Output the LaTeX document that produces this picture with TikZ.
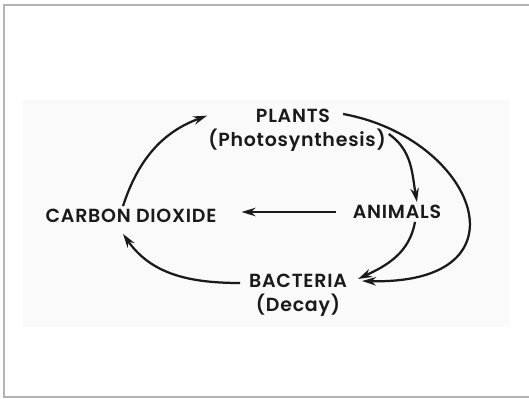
\documentclass[tikz,border=0pt]{standalone}
\usepackage{fontspec}
\setmainfont{Poppins}[BoldFont={* SemiBold}, LetterSpace=4]
\usepackage{tikz}
\usetikzlibrary{arrows.meta,positioning,calc}
\definecolor{framegray}{HTML}{b4b4b4}
\definecolor{scanbg}{HTML}{fafafa}
\definecolor{ink}{HTML}{1a1a1a}

\begin{document}
\begin{tikzpicture}[
  >={Stealth[length=10pt,width=6pt]}, font=\fontsize{13.5}{16}\selectfont\bfseries,
  lbl/.style={text=ink, inner sep=2pt},
  arr/.style={->, ink, line width=1.6pt}
]
\useasboundingbox (0,0) rectangle (13.225,9.95);
% page frame and scanned area
\draw[framegray, line width=1pt] (13.3,9.825) -- (0.1,9.825) -- (0.1,0.025) -- (13.3,0.025);
\fill[scanbg] (0.575,1.775) rectangle (12.75,7.45);

% the cycle
\node[lbl] (plants) at (7.325,7.05) {PLANTS};
\node[lbl] (photo) at (7.425,6.45) {(Photosynthesis)};
\node[lbl] (co2) at (3.275,4.55) {CARBON DIOXIDE};
\node[lbl] (animals) at (9.925,4.65) {ANIMALS};
\node[lbl] (bacteria) at (7.45,2.925) {BACTERIA};
\node[lbl] (decay) at (7.45,2.325) {(Decay)};

\draw[arr] ([xshift=-0.2cm]co2.north) to[out=72, in=200] ([xshift=0.05cm,yshift=0.25cm]photo.north west);
\draw[arr] ([yshift=0.15cm]photo.east) to[out=-35, in=100] ([xshift=0.5cm]animals.north);
\draw[arr] ([xshift=0.25cm,yshift=0.05cm]plants.east) .. controls +(3.3,-0.6) and +(4.3,-0.1) .. ([xshift=0.3cm]bacteria.east);
\draw[arr] ([xshift=0.45cm]animals.south) to[out=-100, in=25] ([xshift=0.2cm,yshift=0.05cm]bacteria.east);
\draw[arr, shorten <=0.35cm, shorten >=0.55cm] (animals.west) -- (animals.west -| co2.east);
\draw[arr] ([xshift=-0.15cm,yshift=-0.05cm]bacteria.west) to[out=180, in=-55] ([xshift=-0.2cm,yshift=-0.2cm]co2.south);
\end{tikzpicture}
\end{document}
